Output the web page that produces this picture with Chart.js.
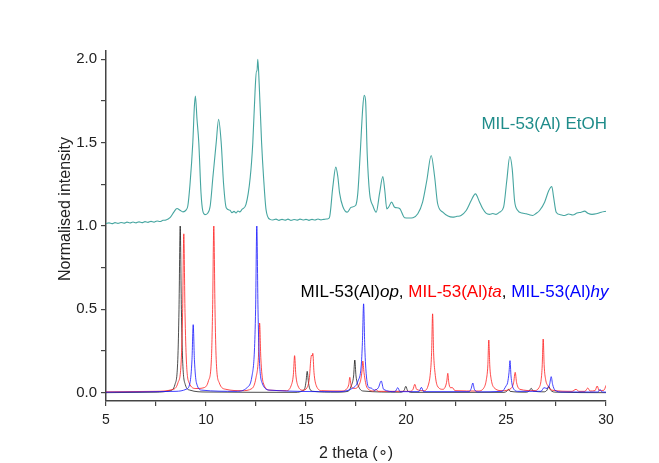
<!DOCTYPE html>
<html lang="en">
<head>
<meta charset="UTF-8">
<title>MIL-53(Al) powder patterns</title>
<style>
  html, body { margin: 0; padding: 0; background: #ffffff; }
  #wrap { width: 659px; height: 463px; }
</style>
<script src="https://cdn.jsdelivr.net/npm/chart.js@4.4.1/dist/chart.umd.min.js"></script>
</head>
<body>
<div id="wrap"><canvas id="xrd" width="659" height="463"></canvas></div>
<script>
// tick labels
const xTickLabels = [5, 10, 15, 20, 25, 30];
const yTickLabels = [0, 0.5, 1.0, 1.5, 2.0];

// measured pattern, offset by +1
const etohPattern = [
  [5.0,1.015],[5.15,1.019],[5.3,1.014],[5.45,1.02],[5.6,1.016],[5.75,1.021],[5.9,1.017],[6.05,1.023],
  [6.2,1.018],[6.35,1.024],[6.5,1.019],[6.65,1.025],[6.8,1.02],[6.95,1.026],[7.1,1.022],[7.25,1.028],
  [7.4,1.023],[7.55,1.03],[7.7,1.027],[7.85,1.034],[8.0,1.036],[8.2,1.05],[8.4,1.085],[8.55,1.105],
  [8.7,1.095],[8.85,1.085],[9.0,1.095],[9.09,1.12],[9.2,1.25],[9.34,1.5],[9.42,1.72],[9.47,1.78],
  [9.55,1.64],[9.64,1.5],[9.75,1.2],[9.84,1.09],[9.95,1.068],[10.07,1.075],[10.21,1.12],[10.35,1.3],
  [10.51,1.5],[10.63,1.64],[10.76,1.5],[10.88,1.25],[11.01,1.11],[11.2,1.095],[11.3,1.08],[11.4,1.088],
  [11.5,1.078],[11.6,1.09],[11.7,1.085],[11.8,1.1],[12.0,1.13],[12.21,1.29],[12.34,1.5],[12.45,1.8],
  [12.52,1.93],[12.55,1.93],[12.59,2.0],[12.66,1.85],[12.78,1.5],[12.88,1.29],[13.0,1.1],[13.2,1.04],
  [13.35,1.036],[13.5,1.041],[13.65,1.034],[13.8,1.04],[13.95,1.035],[14.1,1.041],[14.25,1.034],[14.4,1.039],
  [14.55,1.035],[14.7,1.041],[14.85,1.036],[15.0,1.04],[15.15,1.034],[15.3,1.04],[15.45,1.036],[15.6,1.042],
  [15.75,1.037],[15.9,1.04],[16.05,1.042],[16.17,1.05],[16.34,1.233],[16.49,1.353],[16.59,1.297],[16.68,1.197],
  [16.84,1.117],[17.06,1.083],[17.26,1.113],[17.48,1.123],[17.59,1.197],[17.71,1.434],[17.84,1.714],[17.91,1.784],
  [17.98,1.75],[18.06,1.434],[18.18,1.197],[18.34,1.123],[18.51,1.083],[18.68,1.197],[18.84,1.297],[18.94,1.213],
  [19.04,1.103],[19.13,1.113],[19.28,1.143],[19.43,1.113],[19.68,1.105],[19.93,1.05],[20.15,1.048],[20.35,1.05],
  [20.59,1.073],[20.83,1.143],[21.04,1.273],[21.26,1.423],[21.43,1.297],[21.58,1.135],[21.84,1.083],[22.1,1.06],
  [22.33,1.053],[22.55,1.058],[22.75,1.063],[23.01,1.093],[23.26,1.153],[23.47,1.193],[23.68,1.143],[23.84,1.103],
  [24.0,1.077],[24.17,1.07],[24.34,1.075],[24.5,1.07],[24.68,1.083],[24.88,1.113],[25.04,1.273],[25.19,1.417],
  [25.31,1.343],[25.43,1.15],[25.59,1.093],[25.8,1.078],[26.01,1.073],[26.17,1.067],[26.33,1.063],[26.5,1.075],
  [26.68,1.093],[26.93,1.143],[27.14,1.213],[27.29,1.237],[27.38,1.173],[27.51,1.083],[27.72,1.068],[27.93,1.063],
  [28.13,1.072],[28.34,1.066],[28.55,1.078],[28.76,1.083],[28.93,1.089],[29.09,1.077],[29.3,1.07],[29.51,1.073],
  [29.76,1.083],[30.0,1.089]
];

// simulated patterns
const opPattern = [
  [5,0],[7.5,0.003],[8.2,0.012],[8.45,0.05],[8.59,0.2],[8.65,0.5],[8.71,1.0],[8.77,0.5],[8.83,0.2],
  [8.96,0.05],[9.2,0.015],[10,0.004],[14.5,0.002],[14.8,0.01],[14.94,0.026],[15.0,0.065],[15.06,0.128],
  [15.12,0.065],[15.18,0.026],[15.35,0.008],[16.5,0.003],[17.1,0.008],[17.26,0.04],[17.38,0.1],[17.44,0.196],
  [17.5,0.1],[17.62,0.04],[17.85,0.01],[19.7,0.003],[19.9,0.012],[19.99,0.038],[20.08,0.012],[20.3,0.002],
  [24.9,0.002],[25.05,0.01],[25.12,0.02],[25.2,0.008],[26.0,0.003],[26.16,0.01],[26.26,0.026],[26.36,0.01],
  [26.9,0.005],[27.05,0.015],[27.14,0.038],[27.23,0.015],[27.5,0.003],[30,0]
];

const taPattern = [
  [5,0.005],[7.5,0.008],[8.3,0.018],[8.6,0.06],[8.76,0.19],[8.83,0.48],[8.89,0.953],[8.95,0.48],[9.02,0.19],
  [9.15,0.06],[9.5,0.025],[9.9,0.03],[10.12,0.07],[10.27,0.2],[10.33,0.5],[10.39,1.0],[10.45,0.5],[10.51,0.2],
  [10.66,0.06],[11.0,0.02],[11.8,0.012],[12.3,0.025],[12.5,0.09],[12.62,0.21],[12.68,0.418],[12.74,0.21],
  [12.86,0.06],[13.2,0.015],[14.0,0.012],[14.25,0.04],[14.37,0.11],[14.43,0.222],[14.49,0.11],[14.6,0.04],
  [14.85,0.015],[15.05,0.03],[15.17,0.09],[15.24,0.2],[15.28,0.225],[15.31,0.22],[15.34,0.236],[15.4,0.12],
  [15.52,0.04],[15.8,0.012],[16.8,0.01],[17.05,0.025],[17.14,0.05],[17.19,0.092],[17.25,0.045],[17.4,0.025],
  [17.7,0.06],[17.8,0.13],[17.84,0.19],[17.9,0.12],[18.05,0.03],[18.4,0.01],[18.5,0.02],[18.6,0.008],
  [20.2,0.008],[20.35,0.02],[20.44,0.05],[20.53,0.02],[20.9,0.012],[21.1,0.04],[21.22,0.12],[21.28,0.24],
  [21.33,0.473],[21.38,0.24],[21.45,0.12],[21.57,0.04],[21.85,0.02],[21.98,0.04],[22.04,0.07],[22.09,0.116],
  [22.14,0.06],[22.22,0.03],[22.32,0.03],[22.45,0.012],[23.6,0.01],[23.9,0.03],[24.02,0.08],[24.09,0.16],
  [24.14,0.316],[24.19,0.16],[24.26,0.08],[24.4,0.03],[24.8,0.012],[25.25,0.025],[25.38,0.06],[25.46,0.122],
  [25.53,0.06],[25.7,0.02],[26.4,0.012],[26.65,0.03],[26.76,0.08],[26.81,0.16],[26.86,0.322],[26.91,0.16],
  [26.98,0.08],[27.1,0.04],[27.3,0.015],[28.3,0.008],[28.5,0.02],[28.65,0.008],[28.95,0.008],[29.09,0.028],
  [29.2,0.01],[29.45,0.012],[29.56,0.04],[29.66,0.012],[29.9,0.015],[30,0.044]
];

const hyPattern = [
  [5,0.003],[8.5,0.008],[9.0,0.02],[9.2,0.06],[9.3,0.2],[9.36,0.408],[9.42,0.2],[9.52,0.06],[9.8,0.015],
  [11.5,0.008],[12.05,0.03],[12.3,0.1],[12.42,0.25],[12.48,0.5],[12.54,1.0],[12.6,0.5],[12.66,0.22],[12.8,0.06],
  [13.2,0.015],[16.5,0.006],[17.3,0.025],[17.6,0.07],[17.76,0.16],[17.82,0.3],[17.88,0.533],[17.94,0.27],
  [18.02,0.1],[18.15,0.03],[18.26,0.028],[18.4,0.015],[18.62,0.03],[18.76,0.07],[18.88,0.02],[19.45,0.006],
  [19.59,0.03],[19.7,0.006],[20.65,0.006],[20.77,0.032],[20.88,0.006],[23.15,0.006],[23.26,0.025],[23.34,0.058],
  [23.42,0.02],[23.6,0.005],[24.8,0.008],[25.0,0.04],[25.08,0.06],[25.15,0.12],[25.2,0.192],[25.25,0.1],
  [25.35,0.03],[25.6,0.008],[26.75,0.008],[26.9,0.03],[27.05,0.025],[27.18,0.05],[27.26,0.096],[27.33,0.05],
  [27.45,0.015],[27.8,0.004],[29.6,0.004],[29.7,0.02],[29.8,0.004],[30,0.003]
];

const FONT = '"Liberation Sans", Arial, sans-serif';

// label pieces for the simulated patterns
const simLabel = [
  { text: 'MIL-53(Al)', italic: false, color: '#000000' },
  { text: 'op', italic: true, color: '#000000' },
  { text: ', ', italic: false, color: '#000000' },
  { text: 'MIL-53(Al)', italic: false, color: '#ff0000' },
  { text: 'ta', italic: true, color: '#ff0000' },
  { text: ', ', italic: false, color: '#000000' },
  { text: 'MIL-53(Al)', italic: false, color: '#0000ff' },
  { text: 'hy', italic: true, color: '#0000ff' }
];

const textPlugin = {
  id: 'xrdText',
  afterDraw(chart) {
    const { ctx, scales: { x, y } } = chart;
    ctx.save();
    ctx.textBaseline = 'middle';
    ctx.textAlign = 'left';

    ctx.font = '17px ' + FONT;
    ctx.fillStyle = '#1f8c8a';
    ctx.fillText('MIL-53(Al) EtOH', x.getPixelForValue(23.77), y.getPixelForValue(1.61));

    let px = x.getPixelForValue(14.73);
    const py = y.getPixelForValue(0.6);
    simLabel.forEach(p => {
      ctx.font = (p.italic ? 'italic ' : '') + '17px ' + FONT;
      ctx.fillStyle = p.color;
      ctx.fillText(p.text, px, py);
      px += ctx.measureText(p.text).width;
    });

    // y axis title
    ctx.font = '16px ' + FONT;
    ctx.fillStyle = '#222222';
    ctx.textAlign = 'center';
    ctx.translate(66, 209);
    ctx.rotate(-Math.PI / 2);
    ctx.fillText('Normalised intensity', 0, 0);
    ctx.restore();
  }
};

function series(data, color, width) {
  return {
    data: data,
    borderColor: color,
    borderWidth: width,
    pointRadius: 0,
    showLine: true,
    fill: false,
    cubicInterpolationMode: 'monotone'
  };
}

new Chart(document.getElementById('xrd'), {
  type: 'scatter',
  data: {
    datasets: [
      series(hyPattern, 'rgba(20,20,255,0.8)', 1),
      series(taPattern, 'rgba(255,30,30,0.8)', 1),
      series(opPattern, 'rgba(0,0,0,0.7)', 1),
      series(etohPattern, 'rgba(50,155,150,0.9)', 1.1)
    ]
  },
  options: {
    responsive: false,
    animation: false,
    events: [],
    layout: { padding: { top: 51, right: 53, bottom: 0, left: 0 } },
    plugins: { legend: { display: false }, tooltip: { enabled: false } },
    scales: {
      x: {
        type: 'linear',
        min: 5,
        max: 30,
        border: { display: true, color: '#444444', width: 1.5 },
        grid: { drawOnChartArea: false, drawTicks: true, tickLength: 5, color: '#444444', lineWidth: 1.2 },
        ticks: {
          stepSize: 2.5,
          autoSkip: false,
          maxRotation: 0,
          padding: 6,
          color: '#222222',
          font: { family: FONT, size: 14 },
          callback: v => xTickLabels.includes(v) ? String(v) : ''
        },
        title: {
          display: true,
          text: '2 theta (\u2218)',
          color: '#222222',
          font: { family: FONT, size: 16 },
          padding: { top: 2, bottom: 0 }
        },
        afterFit: s => { s.height = 62; }
      },
      y: {
        type: 'linear',
        min: -0.05,
        max: 2.05,
        border: { display: true, color: '#444444', width: 1.5 },
        grid: { drawOnChartArea: false, drawTicks: true, tickLength: 5, color: '#444444', lineWidth: 1.2 },
        ticks: {
          stepSize: 0.25,
          includeBounds: false,
          autoSkip: false,
          padding: 4,
          color: '#222222',
          font: { family: FONT, size: 15 },
          callback: v => yTickLabels.some(t => Math.abs(t - v) < 1e-6) ? v.toFixed(1) : ''
        },
        afterFit: s => { s.width = 106; }
      }
    }
  },
  plugins: [textPlugin]
});
</script>
</body>
</html>
